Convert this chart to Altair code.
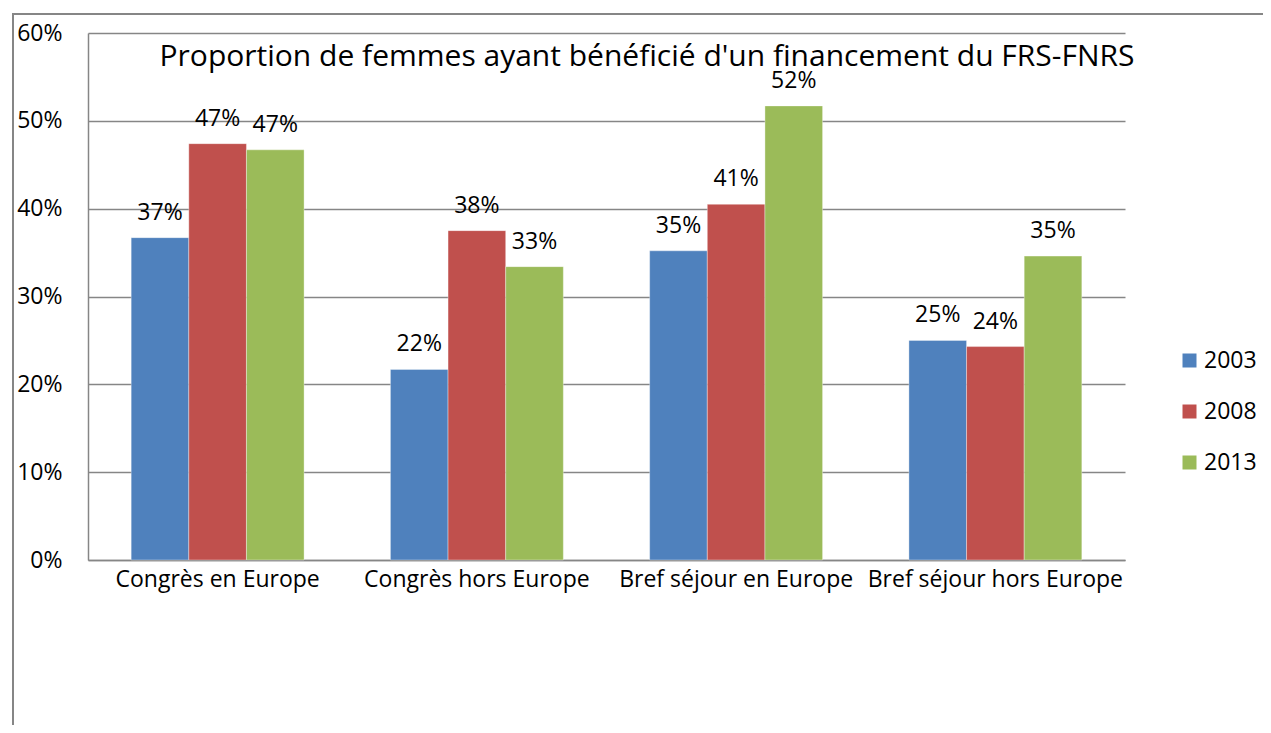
import altair as alt
import pandas as pd

categories = ["Congrès en Europe", "Congrès hors Europe", "Bref séjour en Europe", "Bref séjour hors Europe"]
years = ["2003", "2008", "2013"]
v2003 = [0.367, 0.217, 0.352, 0.250]
v2008 = [0.474, 0.375, 0.405, 0.243]
v2013 = [0.467, 0.334, 0.517, 0.346]
colors = ["#4F81BD", "#C0504D", "#9BBB59"]
y_ticks = [0, 0.1, 0.2, 0.3, 0.4, 0.5, 0.6]
title_text = "Proportion de femmes ayant bénéficié d'un financement du FRS-FNRS"

rows = []
for yr, vals in zip(years, [v2003, v2008, v2013]):
    for c, v in zip(categories, vals):
        rows.append({"cat": c, "year": yr, "value": v})
df = pd.DataFrame(rows)

FONT = "Open Sans"
FS = 23
W, H = 1037, 527

x = alt.X("cat:N", sort=categories, title=None,
          scale=alt.Scale(paddingInner=0.333, paddingOuter=0.1665),
          axis=alt.Axis(labelAngle=0, labelFontSize=FS, labelFont=FONT, labelColor="#000000",
                        labelLimit=0, ticks=False, domainColor="#868686", domainWidth=1.5,
                        labelPadding=8))
xo = alt.XOffset("year:N", sort=years, scale=alt.Scale(paddingInner=0, paddingOuter=0))
y = alt.Y("value:Q", title=None,
          scale=alt.Scale(domain=[0, 0.6], nice=False),
          axis=alt.Axis(values=y_ticks, format=".0%", labelFontSize=FS, labelFont=FONT,
                        labelColor="#000000", ticks=False, domainColor="#868686", domainWidth=1.5,
                        gridColor="#868686", gridWidth=1.5, labelPadding=26))

bars = alt.Chart(df).mark_bar(stroke="#ffffff", strokeWidth=0.6, strokeOpacity=0.6).encode(
    x=x, xOffset=xo, y=y,
    color=alt.Color("year:N", sort=years, title=None,
                    scale=alt.Scale(domain=years, range=colors),
                    legend=alt.Legend(orient="none", legendX=1090, legendY=316,
                                      symbolType="square", symbolSize=196, symbolStrokeWidth=0,
                                      labelFontSize=FS, labelFont=FONT, labelColor="#000000",
                                      labelOffset=3, rowPadding=27)),
)

labels = alt.Chart(df).mark_text(baseline="alphabetic", dy=-18, fontSize=FS, font=FONT, color="#000000").encode(
    x=x, xOffset=xo, y=y,
    text=alt.Text("value:Q", format=".0%"),
)

frame = alt.Chart(df).mark_rect(fill=None, stroke="#868686", strokeWidth=1.5, clip=False).encode(
    x=alt.value(-75), x2=alt.value(W + 200), y=alt.value(-19), y2=alt.value(H + 250)
)

title = alt.Chart(pd.DataFrame({"t": [title_text]})).mark_text(
    fontSize=30, font=FONT, color="#000000", baseline="alphabetic", align="center"
).encode(text="t:N", x=alt.value(559), y=alt.value(33))

chart = alt.layer(frame, bars, labels, title).properties(
    width=W, height=H,
    padding={"left": 80, "top": 25, "right": 138, "bottom": 165},
    autosize=alt.AutoSizeParams(type="none"),
).configure_view(stroke=None).configure_axis(grid=False).configure_axisY(grid=True)

chart.save("out.html", embed_options={"renderer": "svg", "actions": False})
